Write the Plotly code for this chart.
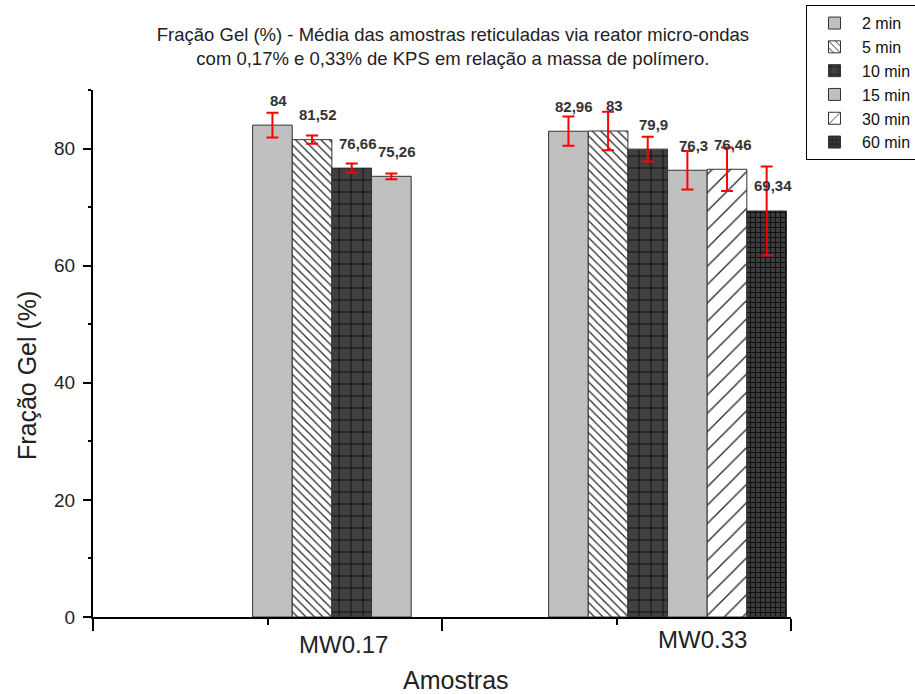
import plotly.graph_objects as go

# Sample groups and reticulation times
amostras = ["MW0.17", "MW0.33"]
tempos = ["2 min", "5 min", "10 min", "15 min", "30 min", "60 min"]

# Mean gel fraction (%) per time, for each sample group
gel_mw017 = [84, 81.52, 76.66, 75.26, None, None]
gel_mw033 = [82.96, 83, 79.9, 76.3, 76.46, 69.34]

# Standard deviations
desvio_mw017 = [2.1, 0.7, 0.8, 0.5, None, None]
desvio_mw033 = [2.5, 3.3, 2.1, 3.3, 3.7, 7.6]

# Bar fill styles per time (fill, pattern shape, pattern colour, size, solidity)
estilos = [
    dict(bg="#c0c0c0", shape="", fg="#000000", size=8, sol=0.2),
    dict(bg="#ffffff", shape="\\", fg="#222222", size=6, sol=0.2),
    dict(bg="#404040", shape="+", fg="#0a0a0a", size=12, sol=0.14),
    dict(bg="#c0c0c0", shape="", fg="#000000", size=8, sol=0.2),
    dict(bg="#ffffff", shape="/", fg="#222222", size=13, sol=0.1),
    dict(bg="#3c3c3c", shape="+", fg="#0a0a0a", size=5, sol=0.3),
]

group_x = [1, 2]
bargap = 0.1966
x_range = [0.0591, 2.417]

FONT = "Liberation Sans, Arial"

fig = go.Figure()
for i, t in enumerate(tempos):
    st = estilos[i]
    pattern = dict(shape=st["shape"], bgcolor=st["bg"], fgcolor=st["fg"],
                   fgopacity=1, size=st["size"], solidity=st["sol"],
                   fillmode="replace")
    fig.add_trace(go.Bar(
        x=group_x,
        y=[gel_mw017[i], gel_mw033[i]],
        name=t,
        marker=dict(color=st["bg"], pattern=pattern,
                    line=dict(color="#333333", width=1)),
        error_y=dict(type="data", array=[desvio_mw017[i], desvio_mw033[i]],
                     visible=True, color="#ff0000", thickness=2, width=6),
    ))

# Value labels above each bar
n = len(tempos)
w = (1 - bargap) / n
annotations = []
for g, vals in zip(group_x, [gel_mw017, gel_mw033]):
    for i, v in enumerate(vals):
        if v is None:
            continue
        xc = g + (i - n / 2 + 0.5) * w
        annotations.append(dict(
            x=xc, y=v, xref="x", yref="y", text=str(v).replace(".", ","),
            showarrow=False, xshift=6, yshift=25, yanchor="middle",
            font=dict(family=FONT, size=15, color="#333333", weight="bold"),
        ))

# Category labels under the x axis
label_pos = [0.905, 2.119]
label_shift = [-12, -7]
for lx, txt, sh in zip(label_pos, amostras, label_shift):
    annotations.append(dict(
        x=lx, y=0, xref="x", yref="paper", text=txt, showarrow=False,
        yanchor="top", yshift=sh,
        font=dict(family=FONT, size=24, color="#222222"),
    ))

# Axis titles
annotations.append(dict(
    x=-0.0946, y=0.459, xref="paper", yref="paper", text="Fração Gel (%)",
    textangle=-90, showarrow=False, xanchor="center", yanchor="middle",
    font=dict(family=FONT, size=25, color="#222222"),
))
annotations.append(dict(
    x=0.52, y=-0.1195, xref="paper", yref="paper", text="Amostras",
    showarrow=False, xanchor="center", yanchor="middle",
    font=dict(family=FONT, size=25, color="#222222"),
))

step = (x_range[1] - x_range[0]) / 4
major_x = [x_range[0] + k * step for k in (0, 2, 4)]
minor_x = [x_range[0] + k * step for k in (1, 3)]

fig.update_layout(
    width=915, height=694,
    margin=dict(l=93, r=124, t=90, b=77, autoexpand=False),
    paper_bgcolor="white", plot_bgcolor="white",
    barmode="group", bargap=bargap, bargroupgap=0,
    font=dict(family=FONT, color="#222222"),
    title=dict(
        text="Fração Gel (%) - Média das amostras reticuladas via reator micro-ondas<br>"
             "com 0,17% e 0,33% de KPS em relação a massa de polímero.",
        x=0.495, xanchor="center", y=0.941, yanchor="top",
        font=dict(size=18.5, color="#222222"),
    ),
    xaxis=dict(
        range=x_range, showgrid=False, zeroline=False,
        showline=True, linecolor="black", linewidth=2,
        tickvals=major_x, ticktext=["", "", ""], ticks="outside",
        ticklen=12, tickwidth=2, tickcolor="black",
        minor=dict(tickvals=minor_x, ticks="outside", ticklen=6,
                   tickwidth=2, tickcolor="black"),
    ),
    yaxis=dict(
        range=[0, 90], showgrid=False, zeroline=False,
        showline=True, linecolor="black", linewidth=2,
        tickvals=[0, 20, 40, 60, 80], ticks="outside", ticklen=8,
        tickwidth=2, tickcolor="black", ticklabelstandoff=4,
        tickfont=dict(size=19, color="#222222"),
        minor=dict(tickvals=[10, 30, 50, 70, 90], ticks="outside",
                   ticklen=3, tickwidth=2, tickcolor="black"),
    ),
    legend=dict(
        x=1.0215, y=1.161, xanchor="left", yanchor="top",
        bordercolor="black", borderwidth=1, bgcolor="white",
        font=dict(size=16, color="#111111"), tracegroupgap=0,
        traceorder="normal", itemwidth=45,
    ),
    annotations=annotations,
)

fig.write_html("out.html")
